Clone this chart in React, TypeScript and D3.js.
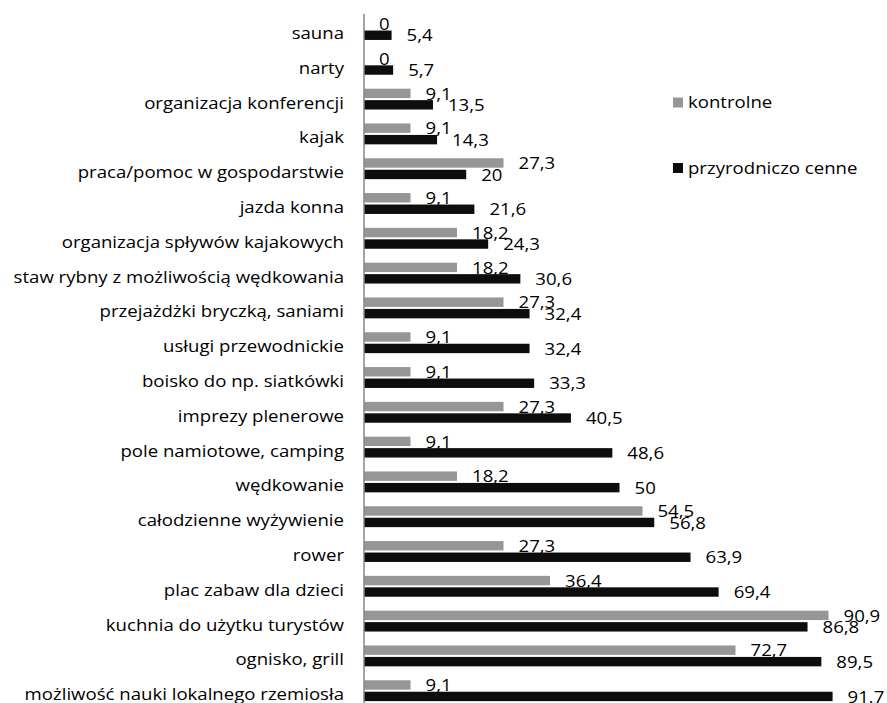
import * as d3 from "d3";

const categories = [
  "sauna",
  "narty",
  "organizacja konferencji",
  "kajak ",
  "praca/pomoc w gospodarstwie",
  "jazda konna",
  "organizacja spływów kajakowych",
  "staw rybny z możliwością wędkowania",
  "przejażdżki bryczką, saniami",
  "usługi przewodnickie",
  "boisko do np. siatkówki",
  "imprezy plenerowe",
  "pole namiotowe, camping",
  "wędkowanie",
  "całodzienne wyżywienie ",
  "rower ",
  "plac zabaw dla dzieci",
  "kuchnia do użytku turystów",
  "ognisko, grill",
  "możliwość nauki lokalnego rzemiosła",
];

const kontrolne = [0, 0, 9.1, 9.1, 27.3, 9.1, 18.2, 18.2, 27.3, 9.1, 9.1, 27.3, 9.1, 18.2, 54.5, 27.3, 36.4, 90.9, 72.7, 9.1];
const przyrodniczo = [5.4, 5.7, 13.5, 14.3, 20, 21.6, 24.3, 30.6, 32.4, 32.4, 33.3, 40.5, 48.6, 50, 56.8, 63.9, 69.4, 86.8, 89.5, 91.7];

const seriesNames = ["kontrolne", "przyrodniczo cenne"];
const seriesColors = ["#969696", "#0d0d0d"];

const W = 887;
const H = 703;
const SX = 1.2; // the source picture is stretched horizontally
const FONT = "'Open Sans', sans-serif";
const FS = 15.5;

const fmt = (v: number) => String(v).replace(".", ",");

function StretchText({ x, y, anchor, children }: { x: number; y: number; anchor: string; children: React.ReactNode }) {
  return (
    <g transform={`translate(${x},${y}) scale(${SX},1)`}>
      <text textAnchor={anchor} fontFamily={FONT} fontSize={FS} fill="#000">
        {children}
      </text>
    </g>
  );
}

export default function App() {
  const x = d3.scaleLinear().domain([0, 100]).range([364, 875]);
  const y0 = d3
    .scaleBand<string>()
    .domain(categories)
    .range([12.1, 708.1])
    .paddingInner(0.4)
    .paddingOuter(0.2);
  const y1 = d3
    .scaleBand<string>()
    .domain(seriesNames)
    .range([0, y0.bandwidth()])
    .paddingInner(0.18);

  const series = [kontrolne, przyrodniczo];

  return (
    <svg width={W} height={H} style={{ position: "absolute", left: 0, top: 0, background: "#fff" }}>
      {categories.map((c, i) => {
        const gy = y0(c)!;
        const center = gy + y0.bandwidth() / 2;
        return (
          <g key={c}>
            <StretchText x={344} y={center + 9.5} anchor="end">
              {c}
            </StretchText>
            {series.map((vals, s) => {
              const by = gy + y1(seriesNames[s])!;
              const v = vals[i];
              return (
                <g key={s}>
                  <rect
                    x={x(0)}
                    y={by}
                    width={x(v) - x(0)}
                    height={y1.bandwidth()}
                    fill={seriesColors[s]}
                  />
                  <StretchText x={x(v) + 15} y={by + y1.bandwidth() + 1.5} anchor="start">
                    {fmt(v)}
                  </StretchText>
                </g>
              );
            })}
          </g>
        );
      })}

      <line x1={x(0)} x2={x(0)} y1={14} y2={H} stroke="#868686" strokeWidth={1.5} />

      {seriesNames.map((n, s) => {
        const ly = [102.5, 168][s];
        return (
          <g key={n}>
            <rect x={673} y={ly - 5} width={10} height={10} fill={seriesColors[s]} />
            <StretchText x={688} y={ly + 5.5} anchor="start">
              {n}
            </StretchText>
          </g>
        );
      })}
    </svg>
  );
}
